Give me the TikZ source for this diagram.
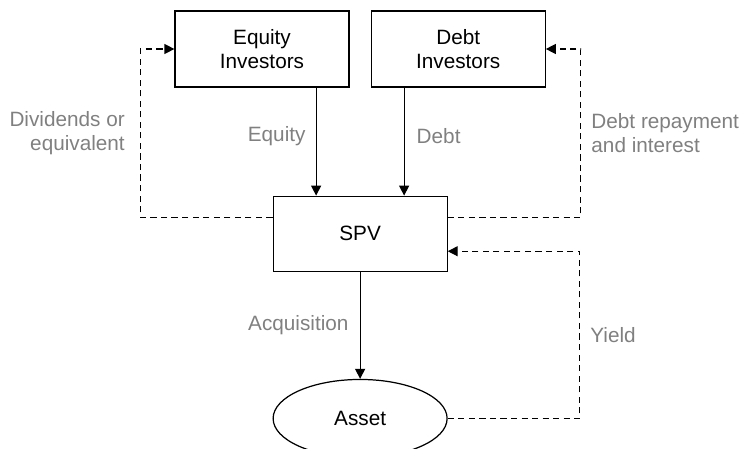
\documentclass[tikz,border=0pt]{standalone}
\usepackage{fontspec}
\setmainfont{Liberation Sans}
\usetikzlibrary{arrows.meta,positioning,calc,shapes.geometric}
\tikzset{
  blk/.style={draw,rectangle,minimum width=3.48cm,minimum height=1.52cm,line width=0.7pt,align=center},
  assetblk/.style={draw,ellipse,minimum width=3.48cm,minimum height=1.56cm,line width=0.7pt,inner sep=0pt},
  arr/.style={-{Triangle[length=0.2cm,width=0.2cm]},line width=0.7pt},
  backarr/.style={arr,dash pattern=on 3.5pt off 2.5pt},
  lbl/.style={text=black!50,align=left,inner sep=0pt},
  every node/.style={font=\fontsize{11.8}{13.6}\selectfont}
}
\begin{document}
\begin{tikzpicture}
  \useasboundingbox (0,0) rectangle (14.86,-8.98);
  \node[blk] (equity) at (5.24,-0.98) {Equity\\Investors};
  \node[blk, right=0.42cm of equity] (debt) {Debt\\Investors};
  \coordinate (mid) at ($(equity.south)!0.5!(debt.south)$);
  \node[blk, minimum height=1.5cm, below=2.16cm of mid] (spv) {SPV};
  \node[assetblk, below=2.14cm of spv] (asset) {Asset};

  % funding flows
  \draw[arr] ([xshift=-0.88cm]spv.north |- equity.south) -- node[lbl,pos=0.45,left=0.2cm] (eqlbl) {Equity} ([xshift=-0.88cm]spv.north);
  \draw[arr] ([xshift=0.88cm]spv.north |- debt.south) -- node[lbl,pos=0.45,right=0.24cm] (debtlbl) {Debt} ([xshift=0.88cm]spv.north);
  \draw[arr] (spv.south) -- node[lbl,left=0.22cm] (acqlbl) {Acquisition} (asset.north);

  % returns
  \draw[backarr] ([yshift=0.33cm]spv.west) -| node[lbl,pos=0.75,left=0.3cm,align=right] (divlbl) {Dividends or\\equivalent} ([xshift=-0.68cm]equity.west) -- (equity.west);
  \draw[backarr] ([yshift=0.33cm]spv.east) -| node[lbl,pos=0.75,right=0.2cm] (replbl) {Debt repayment\\and interest} ([xshift=0.7cm]debt.east) -- (debt.east);
  \draw[backarr] (asset.east) -| node[lbl,pos=0.75,right=0.2cm] (yldlbl) {Yield} ([xshift=2.64cm,yshift=-0.35cm]spv.east) -- ([yshift=-0.35cm]spv.east);
\end{tikzpicture}
\end{document}
